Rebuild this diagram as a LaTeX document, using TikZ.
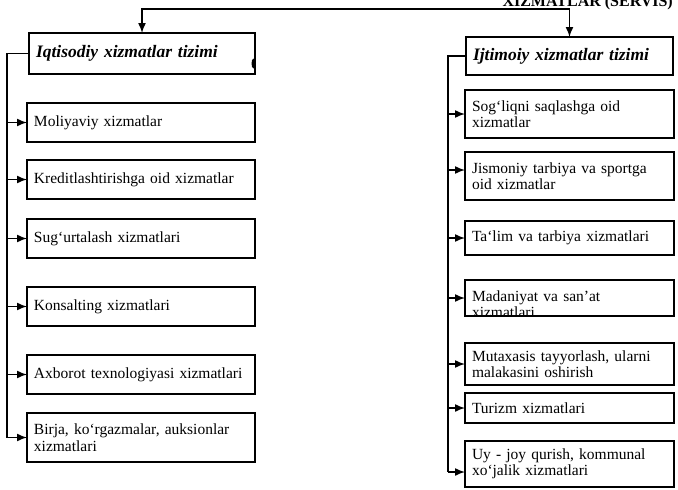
\documentclass[tikz,border=0pt]{standalone}
\usepackage{fontspec}
\setmainfont{Liberation Serif}
\usetikzlibrary{positioning, arrows.meta}

\begin{document}
\begin{tikzpicture}[x=1pt, y=-1pt,
    box/.style={rectangle, draw=black, line width=1.5pt, fill=white, inner xsep=7pt, inner ysep=2pt, outer sep=0pt, align=left, font=\fontsize{15.5}{16.5}\selectfont},
    leftbox/.style={box, text width=214pt, minimum height=39pt},
    rightbox/.style={box, text width=195pt},
    title/.style={box, font=\fontsize{17.5}{20}\selectfont\bfseries\itshape},
    topTitle/.style={font=\fontsize{16}{18}\selectfont\bfseries, inner sep=0pt},
    line/.style={line width=1.5pt},
    arrow/.style={line width=1.5pt, -{Latex[length=10pt, width=8pt]}},
]

\useasboundingbox (0,0) rectangle (678,490);

% Nodes
\node[topTitle, anchor=base east] (servis) at (673,6) {XIZMATLAR (SERVIS)};
\node[title, text width=212pt, minimum height=41pt, anchor=north west] (iqtTitle) at (29,33) {Iqtisodiy xizmatlar tizimi};
\node[title, text width=193pt, minimum height=38pt, anchor=north west] (ijtTitle) at (466,37) {Ijtimoiy xizmatlar tizimi};

% left column
\node[leftbox, anchor=north west] (moliya) at (27,103) {Moliyaviy xizmatlar};
\node[leftbox, below=18pt of moliya] (kredit) {Kreditlashtirishga oid xizmatlar};
\node[leftbox, below=20pt of kredit] (sugurta) {Sug`urtalash xizmatlari};
\node[leftbox, below=29pt of sugurta] (konsalting) {Konsalting xizmatlari};
\node[leftbox, below=29pt of konsalting] (axborot) {Axborot texnologiyasi xizmatlari};
\node[leftbox, below=19pt of axborot, minimum height=49pt] (birja) {Birja, ko`rgazmalar, auksionlar\\xizmatlari};

% right column
\node[rightbox, anchor=north west, minimum height=48pt] (sogliq) at (465,90) {Sog`liqni saqlashga oid\\xizmatlar};
\node[rightbox, below=14pt of sogliq, minimum height=48pt] (jismoniy) {Jismoniy tarbiya va sportga\\oid xizmatlar};
\node[rightbox, below=21pt of jismoniy, minimum height=34pt] (talim) {Ta`lim va tarbiya xizmatlari};
\node[rightbox, below=25pt of talim, minimum height=36pt,
    path picture={\node[anchor=north west, inner sep=0pt, text width=195pt, align=left, font=\fontsize{15.5}{16}\selectfont]
        at ([xshift=7pt, yshift=-6pt]path picture bounding box.north west) {Madaniyat va san'at\\xizmatlari};}] (madaniyat) {};
\node[rightbox, below=27pt of madaniyat, minimum height=42pt] (mutaxasis) {Mutaxasis tayyorlash, ularni\\malakasini oshirish};
\node[rightbox, below=8pt of mutaxasis, minimum height=30pt] (turizm) {Turizm xizmatlari};
\node[rightbox, below=18pt of turizm, minimum height=46pt] (uyjoy) {Uy - joy qurish, kommunal\\xo`jalik xizmatlari};

% Connections
\coordinate (leftBus) at (7,0);
\coordinate (rightBus) at (448,0);
\coordinate (topBus) at (ijtTitle.north |- 0,9);
\coordinate (jismoniyIn) at ([yshift=6pt]jismoniy.west);
\coordinate (uyjoyIn) at ([yshift=-8pt]uyjoy.west);

\draw[arrow] (topBus) -| (iqtTitle.north);
\draw[arrow] (topBus) -- (ijtTitle.north);

\draw[line] (iqtTitle.west) -| (birja.west -| leftBus);
\draw[arrow] (moliya.west -| leftBus) -- (moliya.west);
\draw[arrow] (kredit.west -| leftBus) -- (kredit.west);
\draw[arrow] (sugurta.west -| leftBus) -- (sugurta.west);
\draw[arrow] (konsalting.west -| leftBus) -- (konsalting.west);
\draw[arrow] (axborot.west -| leftBus) -- (axborot.west);
\draw[arrow] (birja.west -| leftBus) -- (birja.west);

\draw[line] (ijtTitle.west) -| (uyjoyIn -| rightBus);
\draw[arrow] (sogliq.west -| rightBus) -- (sogliq.west);
\draw[arrow] (jismoniyIn -| rightBus) -- (jismoniyIn);
\draw[arrow] (talim.west -| rightBus) -- (talim.west);
\draw[arrow] (madaniyat.west -| rightBus) -- (madaniyat.west);
\draw[arrow] (mutaxasis.west -| rightBus) -- (mutaxasis.west);
\draw[arrow] (turizm.west -| rightBus) -- (turizm.west);
\draw[arrow] (uyjoyIn -| rightBus) -- (uyjoyIn);

% mark on the title box
\fill ([xshift=-1.5pt, yshift=-10pt]iqtTitle.east) ellipse (2pt and 5pt);

\end{tikzpicture}
\end{document}
